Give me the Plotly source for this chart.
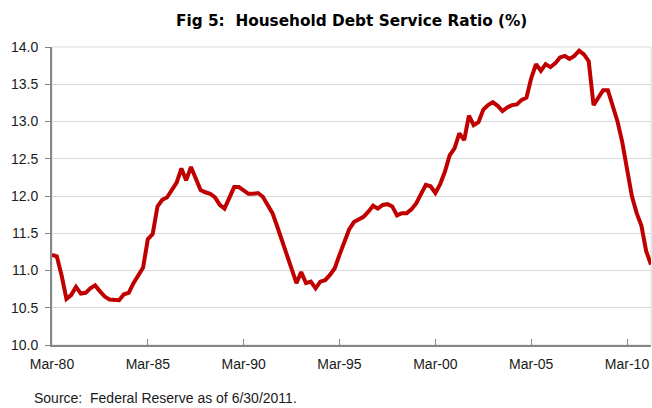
import plotly.graph_objects as go

# Quarterly household debt service ratio (%), Mar-80 .. Jun-11
start_year = 1980
dsr = [
    11.21, 11.19, 10.93, 10.62, 10.67, 10.78, 10.69, 10.70, 10.76, 10.80,
    10.72, 10.65, 10.61, 10.60, 10.60, 10.68, 10.70, 10.83, 10.93, 11.04,
    11.42, 11.49, 11.86, 11.95, 11.98, 12.08, 12.18, 12.37, 12.21, 12.39,
    12.24, 12.08, 12.05, 12.03, 11.98, 11.88, 11.83, 11.99, 12.12, 12.12,
    12.07, 12.03, 12.03, 12.04, 11.99, 11.88, 11.77, 11.59, 11.39, 11.21,
    11.00, 10.83, 10.98, 10.83, 10.85, 10.76, 10.85, 10.87, 10.94, 11.03,
    11.21, 11.40, 11.55, 11.65, 11.69, 11.72, 11.79, 11.87, 11.83, 11.88,
    11.89, 11.86, 11.74, 11.77, 11.77, 11.82, 11.90, 12.04, 12.15, 12.13,
    12.04, 12.16, 12.33, 12.55, 12.64, 12.84, 12.75, 13.08, 12.95, 12.99,
    13.16, 13.22, 13.26, 13.21, 13.14, 13.19, 13.22, 13.23, 13.29, 13.32,
    13.58, 13.77, 13.68, 13.77, 13.73, 13.78, 13.86, 13.88, 13.84, 13.88,
    13.95, 13.90, 13.81, 13.22, 13.33, 13.42, 13.42, 13.20, 13.00, 12.72,
    12.38, 12.00, 11.77, 11.60, 11.26, 11.08,
]
quarters = [f"{start_year + i // 4}-{3 * (i % 4) + 3:02d}-01" for i in range(len(dsr))]
tick_years = [1980, 1985, 1990, 1995, 2000, 2005, 2010]
tick_vals = [f"{y}-03-01" for y in tick_years]
tick_text = [f"Mar-{y % 100:02d}" for y in tick_years]

title_text = "Fig 5:  Household Debt Service Ratio (%)"
source_text = "Source:  Federal Reserve as of 6/30/2011."

font_family = "Liberation Sans, Arial, sans-serif"
title_family = "DejaVu Sans, Verdana, sans-serif"

fig = go.Figure()
fig.add_trace(go.Scatter(
    x=quarters, y=dsr, mode="lines",
    line=dict(color="#C00000", width=4),
    hoverinfo="skip",
))

fig.update_layout(
    width=652, height=408,
    margin=dict(l=52, r=1, t=47, b=63),
    paper_bgcolor="white", plot_bgcolor="white",
    showlegend=False,
    font=dict(family=font_family, color="#1a1a1a", size=14),
    xaxis=dict(
        type="date",
        range=[quarters[0], quarters[-1]],
        tickvals=tick_vals, ticktext=tick_text,
        showgrid=False, zeroline=False,
        showline=True, linecolor="#868686", linewidth=2,
        ticks="inside", ticklen=6, tickcolor="#868686", tickwidth=1,
        tickfont=dict(size=14, family=font_family, color="#1a1a1a"),
        ticklabelstandoff=5,
    ),
    yaxis=dict(
        range=[10, 14], dtick=0.5, tick0=10, tickformat=".1f",
        showgrid=True, gridcolor="#d9d9d9", gridwidth=1,
        zeroline=False,
        showline=True, linecolor="#868686", linewidth=2,
        ticks="outside", ticklen=5, tickcolor="#868686", tickwidth=1,
        tickfont=dict(size=14, family=font_family, color="#1a1a1a"),
        ticklabelstandoff=4,
    ),
    shapes=[dict(
        type="rect", xref="paper", yref="paper", x0=0, x1=1, y0=0, y1=1,
        line=dict(color="#d9d9d9", width=1), layer="below",
    )],
    annotations=[
        dict(text="<b>" + title_text + "</b>", xref="paper", yref="paper",
             x=0.5, y=1 + 26 / 298, xanchor="center", yanchor="middle",
             showarrow=False, font=dict(size=15.3, family=title_family, color="#000000")),
        dict(text=source_text, xref="paper", yref="paper",
             x=-20 / 599, y=-53 / 298, xanchor="left", yanchor="middle",
             showarrow=False, font=dict(size=14, family=font_family, color="#1a1a1a")),
    ],
)

fig.write_html("out.html")
